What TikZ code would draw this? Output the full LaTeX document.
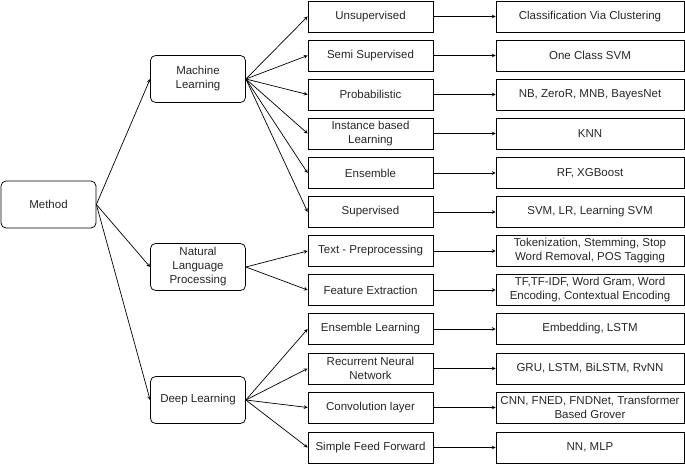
\documentclass[tikz,border=0pt]{standalone}
\usepackage{fontspec}
\setmainfont{Liberation Sans}

\begin{document}
\begin{tikzpicture}[x=1pt,y=-1pt,
 every node/.style={font=\fontsize{11.5}{14}\selectfont,align=center,inner sep=0.5pt,line width=0.75pt,text=black!85},
 rootbox/.style={draw,rounded corners=5pt,minimum width=95pt,minimum height=47pt},
 midbox/.style={draw,minimum width=125pt,minimum height=31pt},
 leafbox/.style={draw,minimum width=188pt,minimum height=31pt},
 arr/.style={->,>=stealth,line width=0.7pt}]
 \useasboundingbox (0,0) rectangle (685,464); %picture size

 \node[rootbox] (M) at (48.5,204.5) {Method}; %root
 \node[rootbox] (ML) at (198,79) {Machine\\Learning}; %ML
 \node[rootbox] (NLP) at (198,267) {Natural\\Language\\Processing}; %NLP
 \node[rootbox] (DL) at (198,400) {Deep Learning}; %DL

 \node[midbox] (A1) at (370.5,16.5) {Unsupervised};
 \node[midbox] (A2) at (370.5,55.5) {Semi Supervised};
 \node[midbox] (A3) at (370.5,94.5) {Probabilistic};
 \node[midbox] (A4) at (370.5,133.5) {Instance based\\Learning};
 \node[midbox] (A5) at (370.5,173) {Ensemble};
 \node[midbox] (A6) at (370.5,212) {Supervised};
 \node[midbox] (A7) at (370.5,251) {Text - Preprocessing};
 \node[midbox] (A8) at (370.5,290) {Feature Extraction};
 \node[midbox] (A9) at (370.5,329) {Ensemble Learning};
 \node[midbox] (A10) at (370.5,368.5) {Recurrent Neural\\Network};
 \node[midbox] (A11) at (370.5,407.5) {Convolution layer};
 \node[midbox] (A12) at (370.5,447.5) {Simple Feed Forward};

 \node[leafbox] (B1) at (590,16.5) {Classification Via Clustering};
 \node[leafbox] (B2) at (590,55.5) {One Class SVM};
 \node[leafbox] (B3) at (590,94.5) {NB, ZeroR, MNB, BayesNet};
 \node[leafbox] (B4) at (590,133.5) {KNN};
 \node[leafbox] (B5) at (590,173) {RF, XGBoost};
 \node[leafbox] (B6) at (590,212) {SVM, LR, Learning SVM};
 \node[leafbox] (B7) at (590,251) {Tokenization, Stemming, Stop\\Word Removal, POS Tagging};
 \node[leafbox] (B8) at (590,290) {TF,TF-IDF, Word Gram, Word\\Encoding, Contextual Encoding};
 \node[leafbox] (B9) at (590,329) {Embedding, LSTM};
 \node[leafbox] (B10) at (590,368.5) {GRU, LSTM, BiLSTM, RvNN};
 \node[leafbox] (B11) at (590,407.5) {CNN, FNED, FNDNet, Transformer\\Based Grover};
 \node[leafbox] (B12) at (590,447.5) {NN, MLP};

 \draw[arr] (M.east)--(ML.west); %root to ML
 \draw[arr] (M.east)--(NLP.west); %root to NLP
 \draw[arr] (M.east)--(DL.west); %root to DL

 \draw[arr] (ML.east)--(A1.west);
 \draw[arr] (ML.east)--(A2.west);
 \draw[arr] (ML.east)--(A3.west);
 \draw[arr] (ML.east)--(A4.west);
 \draw[arr] (ML.east)--(A5.west);
 \draw[arr] (ML.east)--(A6.west);
 \draw[arr] (NLP.east)--(A7.west);
 \draw[arr] (NLP.east)--(A8.west);
 \draw[arr] (DL.east)--(A9.west);
 \draw[arr] (DL.east)--(A10.west);
 \draw[arr] (DL.east)--(A11.west);
 \draw[arr] (DL.east)--(A12.west);

 \draw[arr] (A1)--(B1); \draw[arr] (A2)--(B2); \draw[arr] (A3)--(B3);
 \draw[arr] (A4)--(B4); \draw[arr] (A5)--(B5); \draw[arr] (A6)--(B6);
 \draw[arr] (A7)--(B7); \draw[arr] (A8)--(B8); \draw[arr] (A9)--(B9);
 \draw[arr] (A10)--(B10); \draw[arr] (A11)--(B11); \draw[arr] (A12)--(B12);
\end{tikzpicture}
\end{document}
